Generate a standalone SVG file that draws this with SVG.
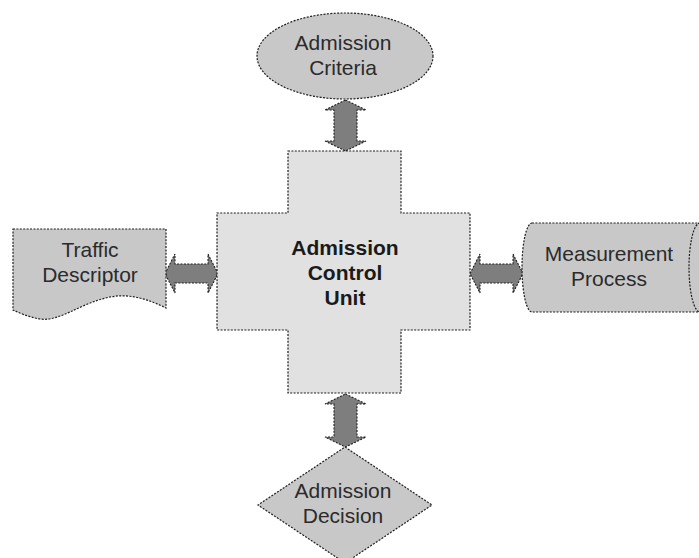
<svg xmlns="http://www.w3.org/2000/svg" width="699" height="558" viewBox="0 0 699 558">
  <defs>
    <style>
      .shape { stroke: #1e1e1e; stroke-width: 1.2; stroke-dasharray: 2 1.4; }
      .node { fill: #c8c8c8; }
      .core { fill: #e1e1e1; }
      .arrow { fill: #7e7e7e; stroke: #1e1e1e; stroke-width: 1.1; stroke-dasharray: 2 1.4; }
      .label { font-family: "Liberation Sans", Arial, sans-serif; font-size: 21px; fill: #2b2b2b; text-anchor: middle; }
      .title { font-weight: bold; fill: #1a1a1a; }
    </style>
  </defs>
  <rect width="699" height="558" fill="#ffffff"/>

  <!-- connectors: double-headed block arrows -->
  <g id="connectors">
    <polygon class="arrow" points="345.5,100 366,110 357,110 357,141 366,141 345.5,151 325,141 334,141 334,110 325,110"/>
    <polygon class="arrow" points="345.5,394 366,404 357,404 357,437 366,437 345.5,447 325,437 334,437 334,404 325,404"/>
    <polygon class="arrow" points="165,273.5 175,254 175,264 208,264 208,254 218,273.5 208,293 208,283 175,283 175,293"/>
    <polygon class="arrow" points="470,273.5 480,254 480,264 513,264 513,254 523,273.5 513,293 513,283 480,283 480,293"/>
  </g>

  <!-- central unit: cross shape -->
  <g id="control-unit">
    <path class="shape core" d="M288,151 H401 V213 H470 V330 H401 V393 H288 V330 H217 V213 H288 Z"/>
    <text class="label title" x="345" y="255">Admission</text>
    <text class="label title" x="345" y="280">Control</text>
    <text class="label title" x="345" y="305">Unit</text>
  </g>

  <!-- criteria: ellipse -->
  <g id="admission-criteria">
    <ellipse class="shape node" cx="345" cy="56" rx="88" ry="43"/>
    <text class="label" x="343" y="50">Admission</text>
    <text class="label" x="343" y="75">Criteria</text>
  </g>

  <!-- descriptor: document shape with wavy bottom -->
  <g id="traffic-descriptor">
    <path class="shape node" d="M13,229 H166 V308 C150,300 130,293 110,297 C80,303 60,322 40,319 C28,317 20,313 13,310 Z"/>
    <text class="label" x="90" y="257">Traffic</text>
    <text class="label" x="90" y="282">Descriptor</text>
  </g>

  <!-- measurement: horizontal storage cylinder -->
  <g id="measurement-process">
    <path class="shape node" d="M532,223 H700 A11,44.5 0 0 1 700,312 H532 A10,44.5 0 0 1 532,223 Z"/>
    <path class="shape" fill="none" d="M700,223 A11,44.5 0 0 0 700,312"/>
    <text class="label" x="609" y="261">Measurement</text>
    <text class="label" x="609" y="286">Process</text>
  </g>

  <!-- decision: diamond -->
  <g id="admission-decision">
    <polygon class="shape node" points="345,447 432,505 345,563 258,505"/>
    <text class="label" x="343" y="498">Admission</text>
    <text class="label" x="343" y="523">Decision</text>
  </g>
</svg>
